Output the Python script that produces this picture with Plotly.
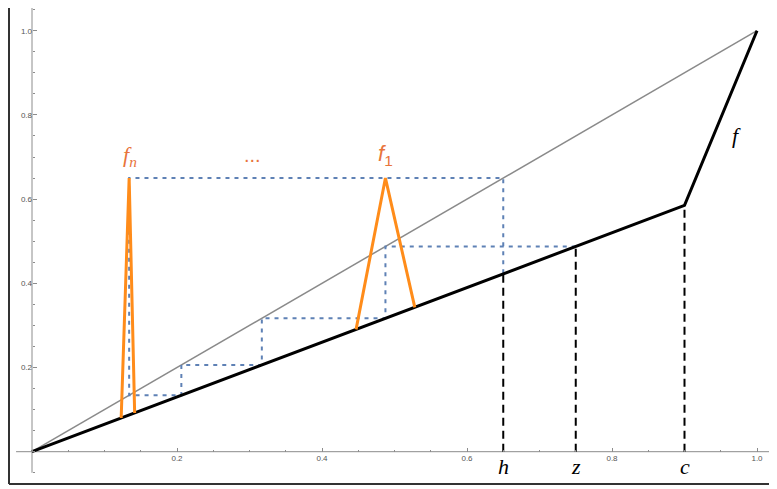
import plotly.graph_objects as go

# diagonal y = x
diag_x = [0, 1]
diag_y = [0, 1]

# the map f (piecewise linear, kink at c)
f_x = [0, 0.9, 1.0]
f_y = [0, 0.585, 1.0]

# marked points on the x axis and the height of f there
mark_names = ["h", "z", "c"]
mark_x = [0.65, 0.75, 0.9]
mark_top = [0.4225, 0.4875, 0.585]

# cobweb (blue dotted)
cob_x = [0.75, 0.4875, 0.4875, 0.317, 0.317, 0.206, 0.206, 0.134, 0.134, 0.65, 0.65]
cob_y = [0.4875, 0.4875, 0.317, 0.317, 0.206, 0.206, 0.134, 0.134, 0.65, 0.65, 0.4225]

# the spikes f_1 and f_n
f1_x = [0.447, 0.4875, 0.528]
f1_y = [0.2905, 0.65, 0.343]
fn_x = [0.123, 0.134, 0.1416]
fn_y = [0.08, 0.65, 0.092]

# tick labels
tick_vals = [0.2, 0.4, 0.6, 0.8, 1.0]
tick_text = ["0.2", "0.4", "0.6", "0.8", "1.0"]

# page body has an 8px margin, so the figure starts at (8, 8)
W, H = 769, 481
ox, oy = 24, 443.7     # origin in figure pixels
sx, sy = 725, 421      # pixels per unit
xr = [-ox / sx, (W - ox) / sx]
yr = [(oy - H) / sy, oy / sy]

fig = go.Figure()

fig.add_trace(go.Scatter(x=diag_x, y=diag_y, mode="lines",
                         line=dict(color="#8a8a8a", width=1.5)))
fig.add_trace(go.Scatter(x=cob_x, y=cob_y, mode="lines",
                         line=dict(color="#5e81b5", width=2, dash="4px,5px")))
fig.add_trace(go.Scatter(x=f_x, y=f_y, mode="lines",
                         line=dict(color="black", width=3)))
for mx, mt in zip(mark_x, mark_top):
    fig.add_trace(go.Scatter(x=[mx, mx], y=[0, mt], mode="lines",
                             line=dict(color="black", width=2, dash="8px,5px")))
fig.add_trace(go.Scatter(x=f1_x, y=f1_y, mode="lines",
                         line=dict(color="#ff8c1a", width=3)))
fig.add_trace(go.Scatter(x=fn_x, y=fn_y, mode="lines",
                         line=dict(color="#ff8c1a", width=3)))

# labels
serif = "Liberation Serif"
for name, mx in zip(mark_names, mark_x):
    fig.add_annotation(x=mx, y=-0.036, text=f"<i>{name}</i>", showarrow=False,
                       font=dict(family=serif, size=22, color="black"))
fig.add_annotation(x=0.972, y=0.752, text="<i>f</i>", showarrow=False,
                   font=dict(family=serif, size=22, color="black"))
lab_col = "#e8743b"
fig.add_annotation(x=0.135, y=0.702, text="<i>f<sub>n</sub></i>", showarrow=False,
                   font=dict(family=serif, size=22, color=lab_col))
fig.add_annotation(x=0.304, y=0.705, text="...", showarrow=False,
                   font=dict(family="Liberation Sans", size=20, color=lab_col))
fig.add_annotation(x=0.488, y=0.705, text="<i>f</i><sub>1</sub>", showarrow=False,
                   font=dict(family="Liberation Sans", size=22, color=lab_col))

# axis lines through the origin
fig.add_shape(type="line", x0=-0.022, x1=1.025, y0=0, y1=0,
              line=dict(color="#8c8c8c", width=1), layer="below")
fig.add_shape(type="line", x0=0, x1=0, y0=-0.05, y1=1.056,
              line=dict(color="#8c8c8c", width=1), layer="below")

# outer frame (left and bottom)
fb = 1 - 476 / H
fig.add_shape(type="line", xref="paper", yref="paper", x0=1 / W, x1=1,
              y0=fb, y1=fb, line=dict(color="#333", width=2))
fig.add_shape(type="line", xref="paper", yref="paper", x0=1 / W, x1=1 / W,
              y0=fb, y1=1, line=dict(color="#333", width=2))

tickfont = dict(family="Liberation Sans", size=8, color="#555")
fig.update_layout(
    width=W, height=H,
    margin=dict(l=0, r=0, t=0, b=0),
    plot_bgcolor="white", paper_bgcolor="white",
    showlegend=False,
    xaxis=dict(range=xr, showgrid=False, zeroline=False, showline=False,
               anchor="free", position=(0 - yr[0]) / (yr[1] - yr[0]),
               tickmode="array", tickvals=tick_vals, ticktext=tick_text,
               ticks="inside", ticklen=4, tickcolor="#8c8c8c", tickfont=tickfont,
               minor=dict(dtick=0.05, tick0=0, ticks="inside", ticklen=2,
                          tickcolor="#8c8c8c")),
    yaxis=dict(range=yr, showgrid=False, zeroline=False, showline=False,
               anchor="free", position=(0 - xr[0]) / (xr[1] - xr[0]),
               tickmode="array", tickvals=tick_vals, ticktext=tick_text,
               ticks="inside", ticklen=4, tickcolor="#8c8c8c", tickfont=tickfont,
               minor=dict(dtick=0.05, tick0=0, ticks="inside", ticklen=2,
                          tickcolor="#8c8c8c")),
)

fig.write_html("out.html")
